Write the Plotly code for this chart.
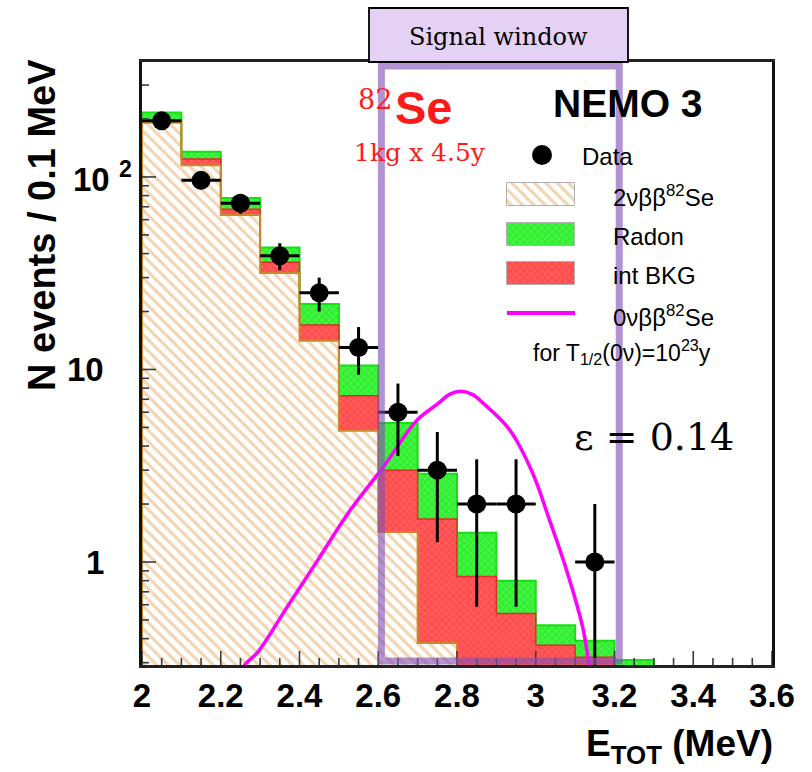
import numpy as np
import plotly.graph_objects as go

# ---- histogram binning (MeV) ----
bin_edges = [2.0, 2.1, 2.2, 2.3, 2.4, 2.5, 2.6, 2.7, 2.8, 2.9, 3.0, 3.1, 3.2, 3.3]

# ---- stacked background expectations, events / 0.1 MeV ----
two_nu = [191, 115, 63.5, 31.7, 14.1, 4.8, 1.43, 0.38, 0.2, 0.1, 0.05, 0.02, 0.01]
int_bkg = [4, 9, 4.5, 4.3, 2.9, 2.5, 1.57, 1.29, 0.64, 0.44, 0.32, 0.3, 0.2]
radon = [21, 11, 9.8, 7, 4.9, 3.2, 2.27, 1.2, 0.58, 0.26, 0.1, 0.07, 0.1]

# ---- observed events per bin ----
data_counts = [196, 96, 73, 39, 25, 13, 6, 3, 2, 2, 0, 1, 0]

# ---- 0vbb signal shape for T1/2 = 1e23 y ----
zero_nu_energy = [2.20, 2.26, 2.294, 2.37, 2.446, 2.529, 2.613, 2.699, 2.75, 2.782,
                  2.81, 2.84, 2.866, 2.934, 2.992, 3.035, 3.078, 3.119, 3.135, 3.15]
zero_nu_counts = [0.16, 0.29, 0.34, 0.59, 1.02, 1.86, 3.12, 5.47, 6.6, 7.45,
                  7.7, 7.4, 6.7, 4.85, 2.9, 1.65, 0.91, 0.46, 0.3, 0.2]

# ---- axis ticks ----
x_ticks = [2.0, 2.2, 2.4, 2.6, 2.8, 3.0, 3.2, 3.4, 3.6]
x_tick_labels = ["2", "2.2", "2.4", "2.6", "2.8", "3", "3.2", "3.4", "3.6"]
x_minor = [2.05, 2.1, 2.15, 2.25, 2.3, 2.35, 2.45, 2.5, 2.55, 2.65, 2.7, 2.75,
           2.85, 2.9, 2.95, 3.05, 3.1, 3.15, 3.25, 3.3, 3.35, 3.45, 3.5, 3.55]
y_ticks = [1, 10, 100]
y_tick_labels = ["1", "10", "10 <sup>2</sup>"]
y_minor = [0.3, 0.4, 0.5, 0.6, 0.7, 0.8, 0.9, 2, 3, 4, 5, 6, 7, 8, 9,
           20, 30, 40, 50, 60, 70, 80, 90, 200, 300]

# signal region (MeV)
window_lo, window_hi = 2.608, 3.212

# ---- figure geometry ----
W, H = 812, 772
ML, MR, MT, MB = 142, 40, 62, 107
PW, PH = W - ML - MR, H - MT - MB
X_RANGE = [2.0, 3.6]
Y_RANGE = [-0.535, 2.597]


def px_x(px):
    return (px - ML) / PW


def px_y(py):
    return (H - MB - py) / PH


def data_x(px):
    return X_RANGE[0] + px_x(px) * (X_RANGE[1] - X_RANGE[0])


def data_y(py):
    return 10 ** (Y_RANGE[0] + px_y(py) * (Y_RANGE[1] - Y_RANGE[0]))


edges = np.array(bin_edges)
centers = (edges[:-1] + edges[1:]) / 2
half_w = (edges[1:] - edges[:-1]) / 2
widths = edges[1:] - edges[:-1]

c1 = np.array(two_nu)
c2 = c1 + np.array(int_bkg)
c3 = c2 + np.array(radon)
floor = 10 ** (Y_RANGE[0] - 1)


def step_outline(values):
    xs, ys = [edges[0]], [floor]
    for i, v in enumerate(values):
        xs += [edges[i], edges[i + 1]]
        ys += [v, v]
    xs.append(edges[-1])
    ys.append(floor)
    return xs, ys


HATCH = dict(shape="\\", size=8, solidity=0.4, fgcolor="#e3ae6c", bgcolor="white")
RED_PAT = dict(shape="x", size=5, solidity=0.22, fgcolor="#ff9a9a", bgcolor="#ff4d4d")
GREEN_PAT = dict(shape="x", size=5, solidity=0.22, fgcolor="#a6ffa6", bgcolor="#30ee30")

fig = go.Figure()

# stacked components
fig.add_trace(go.Bar(x=centers, y=two_nu, width=widths,
                     marker=dict(color="white", pattern=HATCH, line=dict(width=0))))
fig.add_trace(go.Bar(x=centers, y=int_bkg, base=c1, width=widths,
                     marker=dict(color="#ff4d4d", pattern=RED_PAT, line=dict(width=0))))
fig.add_trace(go.Bar(x=centers, y=radon, base=c2, width=widths,
                     marker=dict(color="#30ee30", pattern=GREEN_PAT, line=dict(width=0))))

# contour lines of the cumulative histograms
for vals, col, lw in [(c3, "#14e014", 2), (c2, "#e42a2a", 1.5), (c1, "#c98a2c", 2)]:
    sx, sy = step_outline(vals)
    fig.add_trace(go.Scatter(x=sx, y=sy, mode="lines",
                             line=dict(color=col, width=lw), hoverinfo="skip"))

# 0vbb expectation
fig.add_trace(go.Scatter(x=zero_nu_energy, y=zero_nu_counts, mode="lines",
                         line=dict(color="#ff00ff", width=3.5, shape="spline")))

# data with Poisson errors
counts = np.array(data_counts, dtype=float)
mask = counts > 0
err = np.sqrt(counts[mask])
fig.add_trace(go.Scatter(
    x=centers[mask], y=counts[mask], mode="markers",
    marker=dict(color="black", size=19),
    error_y=dict(type="data", array=err, arrayminus=err, symmetric=False,
                 thickness=3, width=0, color="black"),
    error_x=dict(type="data", array=half_w[mask], thickness=3, width=0, color="black"),
))

# ---- legend swatches ----
sw_x0, sw_x1 = data_x(507), data_x(575)
for top_px, pat, col in [(183, HATCH, "white"), (223, GREEN_PAT, "#30ee30"),
                         (262, RED_PAT, "#ff4d4d")]:
    lo, hi = data_y(top_px + 23), data_y(top_px)
    fig.add_trace(go.Bar(x=[(sw_x0 + sw_x1) / 2], y=[hi - lo], base=[lo],
                         width=[sw_x1 - sw_x0],
                         marker=dict(color=col, pattern=pat,
                                     line=dict(width=1, color="#b0b0b0"))))

# ---- inward tick marks (ROOT style), drawn as line segments on the axes ----
TICK_MAJOR, TICK_MINOR = 14, 7
y_bottom = 10 ** Y_RANGE[0]
tx, ty = [], []
for t in x_ticks + x_minor:
    ln = TICK_MAJOR if t in x_ticks else TICK_MINOR
    tx += [t, t, None]
    ty += [y_bottom, data_y(H - MB - ln), None]
for t in y_ticks + y_minor:
    ln = TICK_MAJOR if t in y_ticks else TICK_MINOR
    tx += [X_RANGE[0], data_x(ML + ln), None]
    ty += [t, t, None]
fig.add_trace(go.Scatter(x=tx, y=ty, mode="lines", connectgaps=False,
                         line=dict(color="#3a3a3a", width=1.6), hoverinfo="skip"))

SANS = "Liberation Sans"
SERIF = "DejaVu Serif"

fig.update_layout(
    width=W, height=H,
    margin=dict(l=ML, r=MR, t=MT, b=MB),
    plot_bgcolor="white", paper_bgcolor="white",
    showlegend=False, barmode="overlay", bargap=0,
    xaxis=dict(range=X_RANGE, tickmode="array", tickvals=x_ticks, ticktext=x_tick_labels,
               tickfont=dict(family=SANS, size=33, color="black", weight="bold"),
               ticks="", showline=True, linecolor="#222", linewidth=2.5, mirror=True,
               showgrid=False, zeroline=False),
    yaxis=dict(type="log", range=Y_RANGE, tickmode="array", tickvals=y_ticks,
               showticklabels=False, ticks="",
               showline=True, linecolor="#111", linewidth=2.5, mirror=True,
               showgrid=False, zeroline=False),
)

shapes = [
    # signal window outline
    dict(type="rect", xref="x", yref="paper", x0=window_lo, x1=window_hi,
         y0=px_y(661), y1=px_y(66), layer="above",
         line=dict(color="rgba(130,80,180,0.62)", width=7)),
    # label box above the frame
    dict(type="rect", xref="paper", yref="paper", x0=px_x(369), x1=px_x(628),
         y0=px_y(62), y1=px_y(8), fillcolor="#e4d1f4",
         line=dict(color="black", width=1.8), layer="above"),
    # legend: data marker
    dict(type="circle", xref="paper", yref="paper",
         x0=px_x(532), x1=px_x(552), y0=px_y(165), y1=px_y(145),
         fillcolor="black", line=dict(width=0), layer="above"),
    # legend: signal line
    dict(type="line", xref="paper", yref="paper", x0=px_x(507), x1=px_x(575),
         y0=px_y(313), y1=px_y(313), line=dict(color="#ff00ff", width=4), layer="above"),
]
fig.update_layout(shapes=shapes)


def ann(text, px, py, size, family=SANS, color="black", xanchor="left",
        weight="normal", angle=0):
    return dict(text=text, x=px_x(px), y=px_y(py), xref="paper", yref="paper",
                xanchor=xanchor, yanchor="middle", showarrow=False, textangle=angle,
                font=dict(family=family, size=size, color=color, weight=weight))


annotations = [
    ann("Signal window", 498, 37, 24, family=SERIF, xanchor="center"),
    ann("82", 356, 99, 27, family=SERIF, color="#ff1a1a"),
    ann("Se", 393, 107, 47, color="#ff1a1a", weight="bold"),
    ann("1kg x 4.5y", 352, 152, 25, family=SERIF, color="#ff1a1a"),
    ann("NEMO 3", 551, 103, 39, weight="bold"),
    ann("Data", 580, 157, 24),
    ann("2νββ<sup>82</sup>Se", 611, 196, 24),
    ann("Radon", 611, 236, 24),
    ann("int BKG", 611, 275, 24),
    ann("0νββ<sup>82</sup>Se", 611, 316, 24),
    ann("for T<sub>1/2</sub>(0ν)=10<sup>23</sup>y", 531, 352, 23),
    ann("ε = 0.14", 572, 437, 38, family=SERIF),
    ann("N events / 0.1 MeV", 42, 225, 38, weight="bold", xanchor="center", angle=-90),
    ann("E<sub>TOT</sub> (MeV)", 775, 746, 37, weight="bold", xanchor="right"),
]
# y tick labels placed at the log-axis positions
for val, lab, right in zip(y_ticks, y_tick_labels, [106, 106, 134]):
    annotations.append(dict(text=lab, x=px_x(right), y=np.log10(val), xref="paper",
                            yref="y", xanchor="right", yanchor="middle", showarrow=False,
                            font=dict(family=SANS, size=33, color="black", weight="bold")))
fig.update_layout(annotations=annotations)

fig.write_html("out.html")
